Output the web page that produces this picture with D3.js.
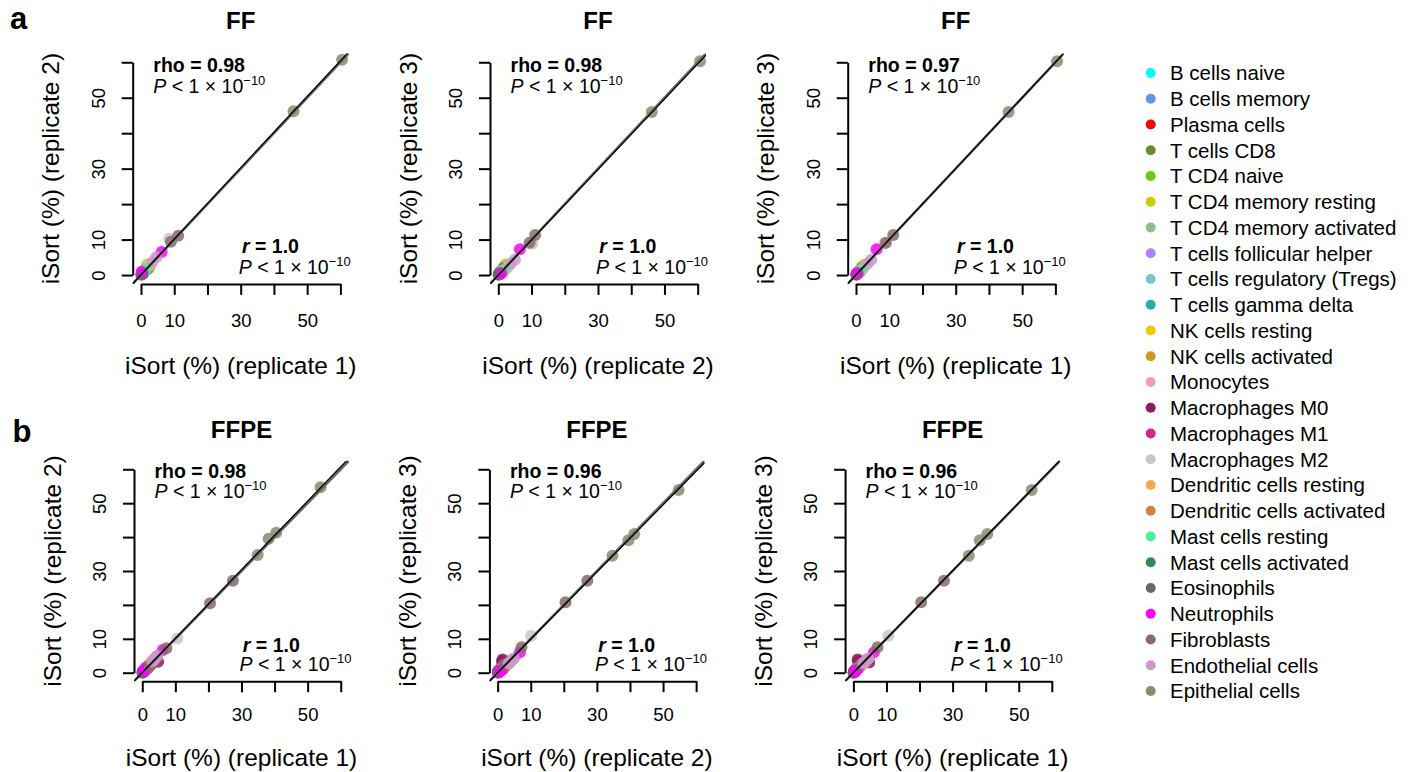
<!DOCTYPE html>
<html>
<head>
<meta charset="utf-8">
<script src="https://cdn.jsdelivr.net/npm/d3@7"></script>
<style>
  body { margin: 0; background: #fff; }
  svg { font-family: 'Liberation Sans', Arial, Helvetica, sans-serif; }
</style>
</head>
<body>
<div id="chart"></div>
<script>
const cellTypes = [
  'B cells naive', 'B cells memory', 'Plasma cells', 'T cells CD8', 'T CD4 naive',
  'T CD4 memory resting', 'T CD4 memory activated', 'T cells follicular helper',
  'T cells regulatory (Tregs)', 'T cells gamma delta', 'NK cells resting', 'NK cells activated',
  'Monocytes', 'Macrophages M0', 'Macrophages M1', 'Macrophages M2',
  'Dendritic cells resting', 'Dendritic cells activated', 'Mast cells resting',
  'Mast cells activated', 'Eosinophils', 'Neutrophils', 'Fibroblasts',
  'Endothelial cells', 'Epithelial cells'
]

const cellColors = [
  '#00FFFF', '#6495ED', '#FF0000', '#6B8E23', '#66CD00',
  '#CDCD00', '#8FBC8F', '#AB82FF', '#7AC5CD', '#20B2AA',
  '#EEC900', '#CD9B1D', '#EEA2AD', '#8B1C62', '#CD2990',
  '#CDC5BF', '#FFA54F', '#CD853F', '#4EEE94', '#2E8B57',
  '#696969', '#FF00FF', '#8B6969', '#CD96CD', '#8B8B70'
]

// FF: two samples, three replicates (values in %)
const ffRep1 = [
  [0.4, 0.3, 0.9, 1.8, 0.6, 2.6, 0.5, 0.9, 0.8, 0.2, 1.3, 0.5, 0.9, 0.7, 1.0, 2.4, 0.6, 0.3, 1.1, 0.2, 0.1, 0.2, 11.2, 3.4, 60.5],
  [0.6, 0.5, 1.4, 2.3, 0.8, 1.8, 0.9, 1.3, 1.1, 0.4, 1.8, 0.7, 1.6, 1.1, 1.7, 8.5, 0.9, 0.4, 1.5, 0.5, 0.2, 6.2, 9.0, 4.6, 45.9]
]
const ffRep2 = [
  [0.3, 0.4, 1.0, 1.6, 0.5, 2.2, 0.6, 1.0, 0.7, 0.3, 1.5, 0.4, 1.0, 0.6, 1.2, 2.7, 0.5, 0.2, 1.0, 0.3, 0.1, 0.9, 11.1, 3.7, 60.7],
  [0.5, 0.6, 1.6, 2.0, 0.9, 2.9, 0.8, 1.5, 1.0, 0.5, 2.0, 0.6, 1.8, 1.0, 1.5, 10.2, 0.8, 0.5, 1.7, 0.4, 0.2, 6.5, 9.4, 5.0, 46.2]
]
const ffRep3 = [
  [0.5, 0.3, 0.8, 1.9, 0.7, 3.0, 0.4, 0.8, 0.9, 0.2, 1.1, 0.6, 0.8, 0.8, 0.9, 2.2, 0.7, 0.3, 1.2, 0.2, 0.1, 0.4, 11.3, 3.2, 60.3],
  [0.7, 0.4, 1.3, 2.5, 0.7, 2.4, 1.0, 1.2, 1.2, 0.4, 1.6, 0.8, 1.5, 1.2, 1.9, 8.8, 1.0, 0.4, 1.4, 0.6, 0.2, 7.3, 9.1, 4.3, 46.0]
]

// FFPE: four samples, three replicates (values in %)
const ffpeRep1 = [
  [0.3, 0.4, 1.2, 1.5, 0.5, 2.0, 0.6, 0.8, 0.7, 0.3, 1.0, 0.5, 1.1, 1.3, 1.2, 3.0, 0.6, 0.4, 0.9, 0.3, 0.1, 0.6, 2.3, 3.4, 53.9],
  [0.5, 0.6, 1.8, 2.2, 0.8, 2.8, 0.9, 1.3, 1.1, 0.4, 1.6, 0.7, 1.8, 1.2, 2.0, 10.6, 0.9, 0.6, 1.4, 0.5, 0.2, 6.2, 7.3, 4.5, 40.5],
  [0.4, 0.5, 1.5, 2.8, 0.6, 2.2, 0.7, 1.0, 0.9, 0.3, 1.4, 0.6, 1.4, 4.8, 1.6, 4.5, 0.8, 0.5, 1.2, 0.4, 0.1, 1.2, 20.5, 4.0, 38.2],
  [0.3, 0.4, 1.0, 2.0, 0.5, 1.8, 0.6, 0.8, 0.7, 0.2, 1.1, 0.5, 1.0, 1.5, 1.3, 3.5, 0.6, 0.4, 0.9, 0.3, 0.1, 0.3, 27.4, 3.0, 34.9]
]
const ffpeRep2 = [
  [0.4, 0.3, 1.4, 1.3, 0.6, 2.4, 0.5, 0.9, 0.8, 0.2, 1.2, 0.4, 1.3, 1.5, 1.0, 3.3, 0.5, 0.5, 1.0, 0.2, 0.1, 0.8, 2.1, 3.8, 54.7],
  [0.6, 0.5, 2.0, 2.0, 0.9, 3.2, 0.8, 1.4, 1.2, 0.5, 1.8, 0.6, 2.0, 1.4, 1.8, 10.1, 0.8, 0.7, 1.5, 0.4, 0.2, 6.7, 7.2, 4.9, 41.3],
  [0.5, 0.4, 1.7, 2.5, 0.7, 2.6, 0.6, 1.1, 1.0, 0.4, 1.6, 0.5, 1.6, 3.2, 1.4, 4.9, 0.7, 0.6, 1.3, 0.3, 0.1, 1.5, 20.5, 4.4, 39.5],
  [0.4, 0.3, 1.2, 1.8, 0.6, 2.1, 0.5, 0.9, 0.8, 0.3, 1.3, 0.4, 1.2, 1.3, 1.1, 3.8, 0.5, 0.5, 1.0, 0.2, 0.1, 0.5, 27.1, 3.3, 34.7]
]
const ffpeRep3 = [
  [0.3, 0.5, 1.1, 1.7, 0.4, 1.8, 0.7, 0.7, 0.6, 0.3, 0.9, 0.6, 1.0, 3.9, 1.4, 2.8, 0.7, 0.3, 0.8, 0.4, 0.1, 0.5, 2.5, 3.1, 53.9],
  [0.5, 0.7, 1.7, 2.4, 0.7, 2.6, 1.0, 1.2, 1.0, 0.4, 1.5, 0.8, 1.7, 1.6, 2.2, 10.9, 1.0, 0.5, 1.3, 0.6, 0.2, 6.0, 7.5, 4.2, 40.9],
  [0.4, 0.6, 1.4, 3.0, 0.5, 2.0, 0.8, 0.9, 0.8, 0.3, 1.3, 0.7, 1.3, 3.0, 1.8, 4.2, 0.9, 0.4, 1.1, 0.5, 0.1, 1.0, 20.8, 3.8, 39.1],
  [0.3, 0.5, 0.9, 2.2, 0.4, 1.6, 0.7, 0.7, 0.6, 0.2, 1.0, 0.6, 0.9, 3.4, 1.5, 3.2, 0.7, 0.3, 0.8, 0.4, 0.1, 0.2, 27.1, 2.8, 34.5]
]

const tickValues = [0, 10, 20, 30, 40, 50, 60]
const tickLabels = [0, 10, 30, 50]

const panels = [
  { row: 0, col: 0, title: 'FF', xs: ffRep1, ys: ffRep2, xLab: 'iSort (%) (replicate 1)', yLab: 'iSort (%) (replicate 2)', rho: '0.98', r: '1.0' },
  { row: 0, col: 1, title: 'FF', xs: ffRep2, ys: ffRep3, xLab: 'iSort (%) (replicate 2)', yLab: 'iSort (%) (replicate 3)', rho: '0.98', r: '1.0' },
  { row: 0, col: 2, title: 'FF', xs: ffRep1, ys: ffRep3, xLab: 'iSort (%) (replicate 1)', yLab: 'iSort (%) (replicate 3)', rho: '0.97', r: '1.0' },
  { row: 1, col: 0, title: 'FFPE', xs: ffpeRep1, ys: ffpeRep2, xLab: 'iSort (%) (replicate 1)', yLab: 'iSort (%) (replicate 2)', rho: '0.98', r: '1.0' },
  { row: 1, col: 1, title: 'FFPE', xs: ffpeRep2, ys: ffpeRep3, xLab: 'iSort (%) (replicate 2)', yLab: 'iSort (%) (replicate 3)', rho: '0.96', r: '1.0' },
  { row: 1, col: 2, title: 'FFPE', xs: ffpeRep1, ys: ffpeRep3, xLab: 'iSort (%) (replicate 1)', yLab: 'iSort (%) (replicate 3)', rho: '0.96', r: '1.0' }
]

// layout (pixels)
const width = 1418
const height = 772
const usr = [-2.5, 62.5]
const rowBoxes = [
  { top: 53.4, bottom: 283.9, lefts: [132.7, 490, 847.7], w: 216, tickLab: 42.7, axLab: 90, titleY: 29, letter: 'a', letterX: 10, letterY: 28.5 },
  { top: 460.8, bottom: 681.2, lefts: [134, 489.4, 845.1], w: 215, tickLab: 40, axLab: 85, titleY: 438, letter: 'b', letterX: 12.5, letterY: 441.5 }
]

const svg = d3
  .select('#chart')
  .append('svg')
  .attr('width', width)
  .attr('height', height)

svg.append('rect').attr('width', width).attr('height', height).attr('fill', 'white')

rowBoxes.forEach(rb => {
  svg
    .append('text')
    .attr('x', rb.letterX)
    .attr('y', rb.letterY)
    .attr('font-size', 31)
    .attr('font-weight', 'bold')
    .text(rb.letter)
})

function pLine(sel, x, y) {
  const t = sel.append('text').attr('x', x).attr('y', y).attr('font-size', 19.5)
  t.append('tspan').attr('font-style', 'italic').text('P')
  t.append('tspan').text(' < 1 × 10')
  t.append('tspan').attr('font-size', 13).attr('dy', -8).text('−10')
}

panels.forEach((p, i) => {
  const rb = rowBoxes[p.row]
  const left = rb.lefts[p.col]
  const right = left + rb.w

  const xScale = d3.scaleLinear().domain(usr).range([left, right])
  const yScale = d3.scaleLinear().domain(usr).range([rb.bottom, rb.top])

  const g = svg.append('g')

  g.append('clipPath')
    .attr('id', 'clip' + i)
    .append('rect')
    .attr('x', left)
    .attr('y', rb.top)
    .attr('width', rb.w)
    .attr('height', rb.bottom - rb.top)

  // points, one per cell type and sample
  const pts = []
  cellTypes.forEach((c, ci) => {
    p.xs.forEach((s, si) => {
      pts.push({ cell: ci, x: s[ci], y: p.ys[si][ci] })
    })
  })

  const plot = g.append('g').attr('clip-path', 'url(#clip' + i + ')')

  plot
    .selectAll('circle')
    .data(pts)
    .enter()
    .append('circle')
    .attr('cx', d => xScale(d.x))
    .attr('cy', d => yScale(d.y))
    .attr('r', 6)
    .attr('fill', d => cellColors[d.cell])
    .attr('fill-opacity', 0.85)

  // least squares fit + identity line
  const mx = d3.mean(pts, d => d.x)
  const my = d3.mean(pts, d => d.y)
  const slope = d3.sum(pts, d => (d.x - mx) * (d.y - my)) / d3.sum(pts, d => (d.x - mx) ** 2)
  const icpt = my - slope * mx

  plot
    .append('line')
    .attr('x1', xScale(usr[0] - 5))
    .attr('y1', yScale(usr[0] - 5))
    .attr('x2', xScale(usr[1] + 5))
    .attr('y2', yScale(usr[1] + 5))
    .attr('stroke', '#666')
    .attr('stroke-width', 2.5)

  plot
    .append('line')
    .attr('x1', xScale(usr[0] - 5))
    .attr('y1', yScale(icpt + slope * (usr[0] - 5)))
    .attr('x2', xScale(usr[1] + 5))
    .attr('y2', yScale(icpt + slope * (usr[1] + 5)))
    .attr('stroke', 'black')
    .attr('stroke-width', 1.3)

  // axes span first to last tick, like base R
  const xAxisScale = d3.scaleLinear().domain([0, 60]).range([xScale(0), xScale(60)])
  const yAxisScale = d3.scaleLinear().domain([0, 60]).range([yScale(0), yScale(60)])
  const fmt = d => (tickLabels.includes(d) ? d : '')

  const xAxis = g
    .append('g')
    .attr('transform', 'translate(0,' + rb.bottom + ')')
    .call(d3.axisBottom(xAxisScale).tickValues(tickValues).tickFormat(fmt).tickSize(11).tickSizeOuter(0))
  xAxis.selectAll('text').attr('y', rb.tickLab).attr('dy', 0).attr('font-size', 18.5).attr('fill', 'black')

  const yAxis = g
    .append('g')
    .attr('transform', 'translate(' + left + ',0)')
    .call(d3.axisLeft(yAxisScale).tickValues(tickValues).tickFormat(fmt).tickSize(11).tickSizeOuter(0))
  yAxis
    .selectAll('text')
    .attr('x', 0)
    .attr('dy', 0)
    .attr('text-anchor', 'middle')
    .attr('transform', 'translate(-28,0) rotate(-90)')
    .attr('font-size', 18.5)
    .attr('fill', 'black')

  g.selectAll('.domain, .tick line').attr('stroke', 'black').attr('stroke-width', 2)

  const cx = (left + right) / 2
  const cy = (rb.top + rb.bottom) / 2

  g.append('text')
    .attr('x', cx)
    .attr('y', rb.titleY)
    .attr('text-anchor', 'middle')
    .attr('font-size', 24)
    .attr('font-weight', 'bold')
    .text(p.title)

  g.append('text')
    .attr('x', cx)
    .attr('y', rb.bottom + rb.axLab)
    .attr('text-anchor', 'middle')
    .attr('font-size', 24.5)
    .text(p.xLab)

  g.append('text')
    .attr('transform', 'translate(' + (left - 73.5) + ',' + cy + ') rotate(-90)')
    .attr('text-anchor', 'middle')
    .attr('font-size', 24.5)
    .text(p.yLab)

  // annotations
  g.append('text')
    .attr('x', xScale(3.7))
    .attr('y', yScale(57.3))
    .attr('font-size', 19.5)
    .attr('font-weight', 'bold')
    .text('rho = ' + p.rho)
  pLine(g, xScale(3.7), yScale(51.4))

  const rt = g
    .append('text')
    .attr('x', xScale(30.4))
    .attr('y', yScale(6.1))
    .attr('font-size', 19.5)
    .attr('font-weight', 'bold')
  rt.append('tspan').attr('font-style', 'italic').text('r')
  rt.append('tspan').text(' = ' + p.r)
  pLine(g, xScale(29.4), yScale(0.4))
})

// legend
const legendY = d3.scalePoint().domain(cellTypes).range([73, 691])
const legend = svg.append('g')

legend
  .selectAll('circle')
  .data(cellTypes)
  .enter()
  .append('circle')
  .attr('cx', 1150.7)
  .attr('cy', d => legendY(d))
  .attr('r', 5)
  .attr('fill', (d, i) => cellColors[i])

legend
  .selectAll('text')
  .data(cellTypes)
  .enter()
  .append('text')
  .attr('x', 1170)
  .attr('y', d => legendY(d))
  .attr('dy', '0.36em')
  .attr('font-size', 20.5)
  .text(d => d)
</script>
</body>
</html>
